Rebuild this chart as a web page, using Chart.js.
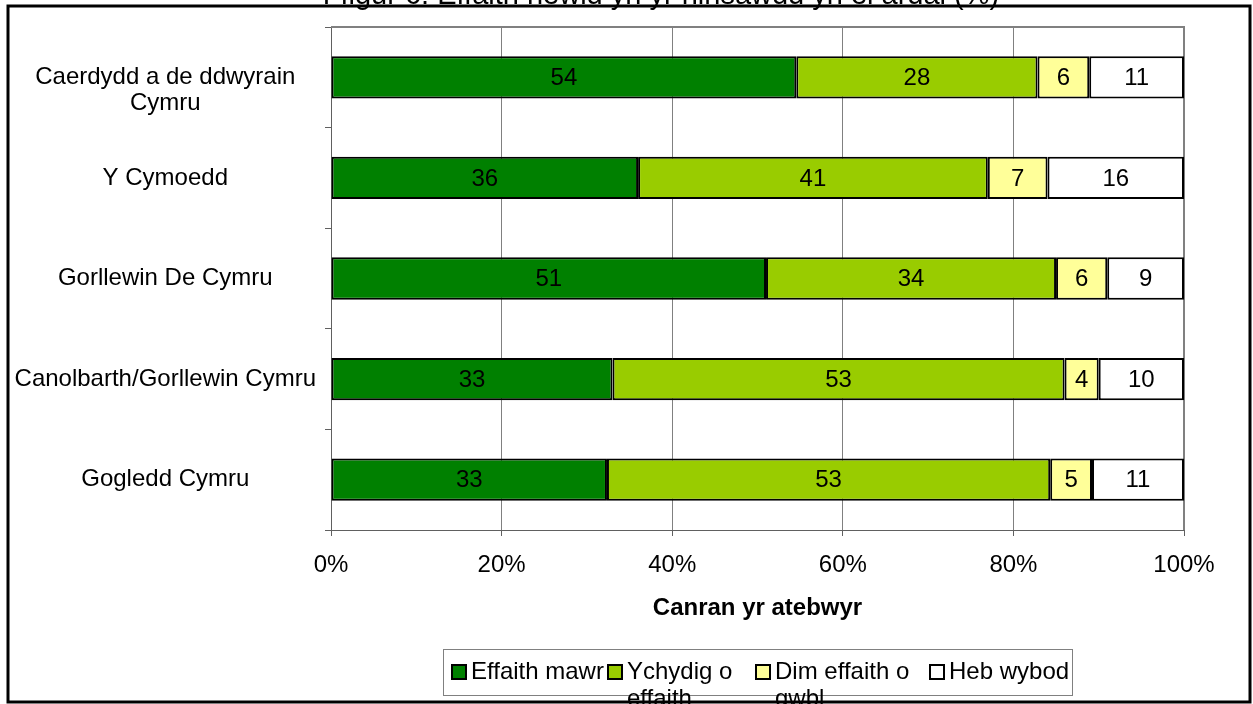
<!DOCTYPE html>
<html>
<head>
<meta charset="utf-8">
<script src="https://cdn.jsdelivr.net/npm/chart.js@4.4.0/dist/chart.umd.min.js"></script>
<style>
    html, body { margin: 0; padding: 0; background: #fff; }
    #wrap { position: relative; width: 1253px; height: 704px; }
</style>
</head>
<body>
<div id="wrap"><canvas id="chart" width="1253" height="704"></canvas></div>
<script>
const chartTitle = "Ffigur 6: Effaith newid yn yr hinsawdd yn ei ardal (%)";
const regions = [["Caerdydd a de ddwyrain", "Cymru"], "Y Cymoedd", "Gorllewin De Cymru", "Canolbarth/Gorllewin Cymru", "Gogledd Cymru"];
const seriesNames = ["Effaith mawr", "Ychydig o effaith", "Dim effaith o gwbl", "Heb wybod"];
const effaithMawr = [54, 36, 51, 33, 33];
const ychydigEffaith = [28, 41, 34, 53, 53];
const dimEffaith = [6, 7, 6, 4, 5];
const hebWybod = [11, 16, 9, 10, 11];
const xTickValues = [0, 20, 40, 60, 80, 100];
const xAxisTitle = "Canran yr atebwyr";

const COLORS = ["#008000", "#99CC00", "#FFFF99", "#FFFFFF"];
const FONT = "'Liberation Sans', Arial, sans-serif";

const series = [effaithMawr, ychydigEffaith, dimEffaith, hebWybod];
// 100% stacked: each bar scaled to its row total
const totals = regions.map((_, i) => series.reduce((s, arr) => s + arr[i], 0));

const datasets = series.map((arr, k) => ({
    label: seriesNames[k],
    data: arr.map((v, i) => v / totals[i] * 100),
    values: arr,
    backgroundColor: COLORS[k],
    borderColor: "#000",
    borderWidth: 2,
    borderSkipped: false,
    barPercentage: 0.42,
    categoryPercentage: 1
}));

// two-line label: first line sits level with the bar, as in the original
const tickLabels = regions.map(l => Array.isArray(l) ? ["", ...l] : l);

function wrapText(ctx, text, maxWidth) {
    const words = text.split(" ");
    const lines = [];
    let line = "";
    for (const w of words) {
        const test = line ? line + " " + w : w;
        if (line && ctx.measureText(test).width > maxWidth) {
            lines.push(line);
            line = w;
        } else {
            line = test;
        }
    }
    if (line) lines.push(line);
    return lines;
}

const extras = {
    id: "extras",
    beforeDraw(chart) {
        const ctx = chart.ctx;
        ctx.save();
        ctx.fillStyle = "#fff";
        ctx.fillRect(0, 0, chart.width, chart.height);
        ctx.restore();
    },
    beforeDatasetsDraw(chart) {
        const { ctx, chartArea: a } = chart;
        ctx.save();
        ctx.strokeStyle = "#808080";
        ctx.lineWidth = 2;
        ctx.beginPath();
        ctx.moveTo(a.left, a.top);
        ctx.lineTo(a.right, a.top);
        ctx.lineTo(a.right, a.bottom);
        ctx.stroke();
        ctx.restore();
    },
    afterDatasetsDraw(chart) {
        const ctx = chart.ctx;
        ctx.save();
        ctx.font = "24px " + FONT;
        ctx.fillStyle = "#000";
        ctx.textAlign = "center";
        ctx.textBaseline = "middle";
        chart.data.datasets.forEach((ds, k) => {
            chart.getDatasetMeta(k).data.forEach((bar, i) => {
                const p = bar.getCenterPoint();
                ctx.fillText(String(ds.values[i]), p.x, p.y + 1);
            });
        });
        ctx.restore();
    },
    afterDraw(chart) {
        const ctx = chart.ctx;
        ctx.save();

        // title, cut by the top of the picture
        ctx.font = "29px " + FONT;
        ctx.fillStyle = "#000";
        ctx.textAlign = "center";
        ctx.textBaseline = "alphabetic";
        ctx.fillText(chartTitle, 661, 4);

        // legend
        const box = { x: 443, y: 649, w: 629, h: 46 };
        ctx.strokeStyle = "#808080";
        ctx.lineWidth = 1;
        ctx.strokeRect(box.x + 0.5, box.y + 0.5, box.w, box.h);
        const markerX = [452, 608, 756, 930];
        ctx.font = "24px " + FONT;
        ctx.textAlign = "left";
        ctx.textBaseline = "middle";
        chart.data.datasets.forEach((ds, k) => {
            const mx = markerX[k];
            ctx.fillStyle = ds.backgroundColor;
            ctx.fillRect(mx, 665, 14, 14);
            ctx.strokeStyle = "#000";
            ctx.lineWidth = 2;
            ctx.strokeRect(mx, 665, 14, 14);
            ctx.fillStyle = "#000";
            const lines = wrapText(ctx, ds.label, 140);
            lines.forEach((ln, j) => ctx.fillText(ln, mx + 19, 672 + j * 27));
        });

        // outer frame
        ctx.strokeStyle = "#000";
        ctx.lineWidth = 3;
        ctx.strokeRect(8, 6, 1242, 696);
        ctx.restore();
    }
};

Chart.defaults.font.family = FONT;
Chart.defaults.font.size = 24;
Chart.defaults.color = "#000";

new Chart(document.getElementById("chart"), {
    type: "bar",
    data: { labels: tickLabels, datasets: datasets },
    options: {
        indexAxis: "y",
        responsive: false,
        animation: false,
        devicePixelRatio: 1,
        layout: { padding: { top: 27, left: 0, right: 69, bottom: 77 } },
        plugins: {
            legend: { display: false },
            title: { display: false },
            tooltip: { enabled: false }
        },
        scales: {
            x: {
                stacked: true,
                min: 0,
                max: 100,
                afterBuildTicks(scale) {
                    scale.ticks = xTickValues.map(v => ({ value: v }));
                },
                afterFit(scale) { scale.height = 97; },
                ticks: {
                    callback: v => v + "%",
                    font: { size: 24, lineHeight: 1.2 },
                    color: "#000",
                    padding: 15,
                    maxRotation: 0
                },
                grid: { color: "#808080", lineWidth: 1, tickLength: 6, tickColor: "#606060" },
                border: { color: "#606060", width: 1 },
                title: {
                    display: true,
                    text: xAxisTitle,
                    font: { size: 24, weight: "bold", lineHeight: 1.2 },
                    color: "#000",
                    padding: { top: 4, bottom: 4 }
                }
            },
            y: {
                stacked: true,
                afterFit(scale) { scale.width = 331; },
                ticks: {
                    font: { size: 24, lineHeight: 1.1 },
                    color: "#000",
                    crossAlign: "center",
                    padding: 9
                },
                grid: { drawOnChartArea: false, offset: true, tickLength: 6, tickColor: "#606060" },
                border: { color: "#606060", width: 1 }
            }
        }
    },
    plugins: [extras]
});
</script>
</body>
</html>
